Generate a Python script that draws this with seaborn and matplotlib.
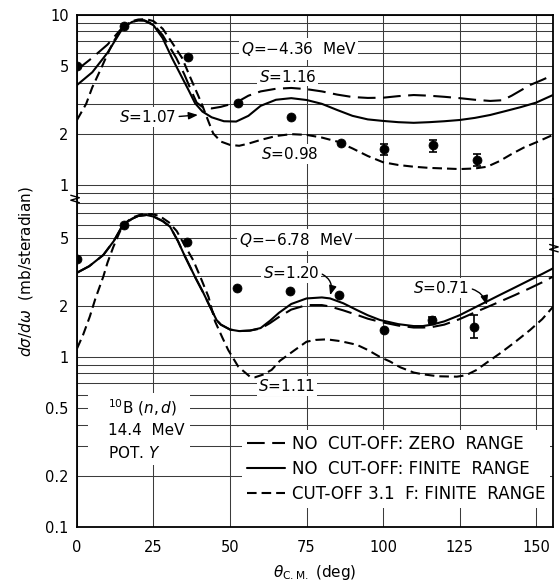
import numpy as np
import pandas as pd
import matplotlib
matplotlib.use("Agg")
import matplotlib.pyplot as plt
import seaborn as sns
from matplotlib.ticker import FixedLocator, FixedFormatter, LogLocator, NullFormatter
from matplotlib.patches import Rectangle

# ---------------- data ----------------
# Upper panel: Q = -4.36 MeV
top_zero_x = [0, 5, 10, 15, 18, 20, 22, 25, 28, 30, 32.4, 35, 37, 39.1, 41.2, 44, 47, 52, 56, 60, 65, 70, 75, 80, 85, 90, 95, 100, 105, 110, 115, 120, 125, 130, 135, 139, 142, 145, 148, 152, 155.5]
top_zero_y = [4.75, 5.6, 6.7, 8.5, 9.1, 9.3, 9.3, 8.8, 7.6, 6.6, 5.6, 4.5, 3.7, 3.05, 2.86, 2.82, 2.88, 3.05, 3.35, 3.55, 3.68, 3.72, 3.66, 3.55, 3.40, 3.29, 3.25, 3.26, 3.33, 3.38, 3.35, 3.30, 3.24, 3.17, 3.12, 3.15, 3.35, 3.6, 3.87, 4.15, 4.43]

top_fin_x = [0, 5, 10, 15, 18, 20, 22, 25, 28, 31, 34, 36.5, 38.6, 41, 44, 48, 52, 56, 60, 65, 70, 75, 80, 85, 90, 95, 100, 105, 110, 115, 120, 125, 130, 135, 140, 145, 150, 155.5]
top_fin_y = [3.87, 4.6, 6.0, 8.4, 9.1, 9.3, 9.25, 8.7, 7.3, 5.6, 4.4, 3.6, 3.02, 2.7, 2.5, 2.37, 2.36, 2.55, 2.92, 3.17, 3.24, 3.16, 3.0, 2.76, 2.55, 2.43, 2.38, 2.34, 2.32, 2.34, 2.37, 2.41, 2.48, 2.58, 2.72, 2.87, 3.05, 3.38]

top_cut_x = [0, 3, 5, 8, 10, 12, 15, 18, 20, 22.5, 25, 28, 31, 34.3, 37, 40.7, 43, 44.5, 47, 50, 53, 56, 60, 65, 70, 75, 80, 85, 90, 95, 100, 105, 110, 115, 120, 125, 130, 134, 138, 142, 146, 150, 155.5]
top_cut_y = [2.41, 3.0, 3.75, 4.9, 5.9, 7.0, 8.5, 9.2, 9.4, 9.45, 9.2, 8.3, 6.9, 5.6, 4.3, 3.02, 2.35, 2.01, 1.8, 1.72, 1.70, 1.75, 1.84, 1.94, 1.99, 1.97, 1.90, 1.80, 1.64, 1.48, 1.36, 1.31, 1.28, 1.26, 1.25, 1.24, 1.25, 1.28, 1.38, 1.52, 1.66, 1.78, 1.97]

top_pts_x = [0, 15.4, 36.4, 52.7, 69.8, 86.3, 100.4, 116.2, 130.8]
top_pts_y = [5.0, 8.65, 5.66, 3.04, 2.52, 1.77, 1.62, 1.72, 1.40]
top_err_lo = [0, 0, 0, 0, 0, 0, 0.12, 0.15, 0.11]
top_err_hi = [0, 0, 0, 0, 0, 0, 0.12, 0.12, 0.12]

# Lower panel: Q = -6.78 MeV
bot_fin_x = [0, 4, 8.6, 12, 15, 18, 20, 22.7, 25, 28, 30.4, 33, 35, 38.6, 41.3, 43.5, 45.6, 47, 50, 53, 56.5, 60, 63, 66, 70, 75, 80, 82.7, 87, 91.4, 95, 99, 105, 110, 113, 116, 120, 125, 130.6, 135, 138, 143, 148, 152, 155.5]
bot_fin_y = [3.13, 3.42, 3.98, 4.8, 5.98, 6.5, 6.75, 6.84, 6.7, 6.3, 5.84, 4.8, 4.0, 2.95, 2.38, 1.97, 1.65, 1.55, 1.45, 1.42, 1.43, 1.48, 1.63, 1.82, 2.05, 2.21, 2.24, 2.21, 2.07, 1.89, 1.76, 1.65, 1.56, 1.52, 1.52, 1.55, 1.62, 1.76, 1.98, 2.17, 2.31, 2.56, 2.84, 3.08, 3.32]

bot_zero_x = [0, 4, 8.6, 12, 15, 18, 20, 22.7, 25, 28, 30.4, 33, 35, 38.6, 41.3, 43.5, 45.6, 47, 50, 53, 56.5, 60, 63, 66, 70, 75, 80, 82.7, 87, 91.4, 95, 99, 105, 110, 113, 116, 120, 125, 130.6, 135, 138, 143, 148, 152, 155.5]
bot_zero_y = [3.13, 3.42, 3.98, 4.8, 5.98, 6.5, 6.75, 6.84, 6.7, 6.3, 5.84, 4.8, 4.0, 2.95, 2.38, 1.97, 1.65, 1.55, 1.45, 1.42, 1.43, 1.47, 1.58, 1.72, 1.90, 2.02, 2.02, 1.98, 1.88, 1.77, 1.68, 1.61, 1.53, 1.49, 1.49, 1.50, 1.55, 1.67, 1.85, 2.0, 2.11, 2.31, 2.54, 2.75, 2.97]

bot_cut_x = [0, 2, 4.2, 6, 8.6, 10, 11.9, 13.5, 15, 18, 21, 24.4, 27, 30, 32.6, 35, 38, 40.5, 43, 45.1, 47.5, 49.4, 52.7, 56.5, 58.2, 61, 63.6, 66.3, 71.2, 75, 78, 81.6, 86, 91.4, 95, 99, 102.3, 105.6, 110, 113.2, 118, 124.1, 127, 130.6, 134, 138.2, 143, 148, 152, 155.6]
bot_cut_y = [1.12, 1.35, 1.73, 2.2, 2.97, 3.6, 4.45, 5.2, 5.98, 6.6, 6.9, 6.93, 6.75, 6.2, 5.5, 4.6, 3.7, 2.9, 2.25, 1.62, 1.3, 1.10, 0.877, 0.766, 0.76, 0.79, 0.84, 0.95, 1.10, 1.23, 1.26, 1.27, 1.24, 1.18, 1.10, 1.00, 0.94, 0.87, 0.81, 0.79, 0.77, 0.766, 0.78, 0.84, 0.93, 1.05, 1.22, 1.44, 1.67, 1.98]

bot_pts_x = [0, 15.4, 35.8, 52.4, 69.6, 85.7, 100.2, 116.0, 129.7]
bot_pts_y = [3.77, 5.95, 4.77, 2.54, 2.46, 2.32, 1.44, 1.65, 1.51]
bot_err_lo = [0, 0, 0, 0, 0, 0, 0, 0.07, 0.22]
bot_err_hi = [0, 0, 0, 0, 0, 0, 0, 0.07, 0.26]

top_ticks = [1, 2, 5, 10]
top_ticklabels = ["1", "2", "5", "10"]
bot_ticks = [0.1, 0.2, 0.5, 1, 2, 5]
bot_ticklabels = ["0.1", "0.2", "0.5", "1", "2", "5"]
x_ticks = [0, 25, 50, 75, 100, 125, 150]
x_ticklabels = ["0", "25", "50", "75", "100", "125", "150"]

legend_labels = ["NO  CUT-OFF: ZERO  RANGE", "NO  CUT-OFF: FINITE  RANGE", "CUT-OFF 3.1  F: FINITE  RANGE"]

# ---------------- style ----------------
sns.set_style("white")
plt.rcParams["font.family"] = ["DejaVu Sans"]
plt.rcParams["mathtext.fontset"] = "dejavusans"
for key in ("text.color", "axes.labelcolor", "xtick.color", "ytick.color"):
    plt.rcParams[key] = "black"

LW = 1.5
LONG = (0, (8.5, 3.6))
SHORT = (0, (4.6, 2.4))
GRID_KW = dict(color="#3c3c3c", lw=0.75)

fig = plt.figure(figsize=(5.59, 5.84), dpi=100)
ax_top = fig.add_axes([0.1377, 0.6593, 0.8515, 0.3151])
ax_bot = fig.add_axes([0.1377, 0.0976, 0.8515, 0.5617])


def draw_curve(ax, xs, ys, ls, label=None):
    df = pd.DataFrame({"x": xs, "y": ys})
    sns.lineplot(data=df, x="x", y="y", ax=ax, color="black", lw=LW,
                 linestyle=ls, zorder=4, label=label, legend=False, sort=False)


def draw_points(ax, xs, ys, lo, hi):
    df = pd.DataFrame({"x": xs, "y": ys})
    sns.scatterplot(data=df, x="x", y="y", ax=ax, color="black", s=42,
                    edgecolor="black", zorder=5, legend=False)
    xe = [x for x, a, b in zip(xs, lo, hi) if a > 0 or b > 0]
    ye = [y for y, a, b in zip(ys, lo, hi) if a > 0 or b > 0]
    le = [a for a, b in zip(lo, hi) if a > 0 or b > 0]
    he = [b for a, b in zip(lo, hi) if a > 0 or b > 0]
    ax.errorbar(xe, ye, yerr=[le, he], fmt="none", ecolor="black",
                elinewidth=1.2, capsize=3, capthick=1.2, zorder=5)


# upper panel curves
draw_curve(ax_top, top_zero_x, top_zero_y, LONG)
draw_curve(ax_top, top_fin_x, top_fin_y, "-")
draw_curve(ax_top, top_cut_x, top_cut_y, SHORT)
draw_points(ax_top, top_pts_x, top_pts_y, top_err_lo, top_err_hi)

# lower panel curves
draw_curve(ax_bot, bot_zero_x, bot_zero_y, LONG, label=legend_labels[0])
draw_curve(ax_bot, bot_fin_x, bot_fin_y, "-", label=legend_labels[1])
draw_curve(ax_bot, bot_cut_x, bot_cut_y, SHORT, label=legend_labels[2])
draw_points(ax_bot, bot_pts_x, bot_pts_y, bot_err_lo, bot_err_hi)

for ax in (ax_top, ax_bot):
    ax.set_yscale("log")
    ax.set_xlim(0, 155.5)
    ax.set_axisbelow(True)
    ax.xaxis.set_major_locator(FixedLocator(x_ticks))
    ax.yaxis.set_minor_locator(LogLocator(base=10, subs=np.arange(2, 10) * 1.0, numticks=30))
    ax.yaxis.set_minor_formatter(NullFormatter())
    ax.yaxis.grid(True, which="both", **GRID_KW)
    ax.xaxis.grid(True, which="major", **GRID_KW)
    ax.tick_params(which="both", length=0, labelsize=10.5, pad=6, colors="black")
    for s in ax.spines.values():
        s.set_linewidth(1.3)
        s.set_color("black")
    ax.set_xlabel("")
    ax.set_ylabel("")

ax_top.set_ylim(0.827, 10)
ax_top.yaxis.set_major_locator(FixedLocator(top_ticks))
ax_top.yaxis.set_major_formatter(FixedFormatter(top_ticklabels))
ax_top.tick_params(axis="x", labelbottom=False)
ax_top.spines["bottom"].set_visible(False)

ax_bot.set_ylim(0.1, 8.5)
ax_bot.yaxis.set_major_locator(FixedLocator(bot_ticks))
ax_bot.yaxis.set_major_formatter(FixedFormatter(bot_ticklabels))
ax_bot.xaxis.set_major_formatter(FixedFormatter(x_ticklabels))
ax_bot.tick_params(axis="x", pad=9)
ax_bot.spines["top"].set_visible(False)

# ---------------- annotations ----------------
BOX = dict(boxstyle="square,pad=0.12", fc="white", ec="none")
FS = 11
ax_top.text(72.4, 6.29, "$Q$=\u22124.36  MeV", ha="center", va="center", fontsize=FS, bbox=BOX, zorder=3)
ax_top.text(68.8, 4.34, "$S$=1.16", ha="center", va="center", fontsize=FS, bbox=BOX, zorder=3)
ax_top.text(69.6, 1.52, "$S$=0.98", ha="center", va="center", fontsize=FS, bbox=BOX, zorder=3)
ax_top.annotate("$S$=1.07", xy=(39.5, 2.58), xytext=(23, 2.52), ha="center", va="center",
                fontsize=FS, bbox=BOX, zorder=3,
                arrowprops=dict(arrowstyle="-|>,head_length=0.5,head_width=0.2", color="black",
                                lw=1.0, relpos=(1, 0.5), shrinkA=1, shrinkB=0))

ax_bot.text(71.6, 4.88, "$Q$=\u22126.78  MeV", ha="center", va="center", fontsize=FS, bbox=BOX, zorder=3)
ax_bot.annotate("$S$=1.20", xy=(82.7, 2.31), xytext=(69.9, 3.13), ha="center", va="center",
                fontsize=FS, bbox=BOX, zorder=3,
                arrowprops=dict(arrowstyle="-|>,head_length=0.5,head_width=0.2", color="black",
                                lw=1.0, relpos=(1, 0.5), shrinkA=1, shrinkB=0,
                                connectionstyle="arc3,rad=-0.45"))
ax_bot.annotate("$S$=0.71", xy=(133.9, 2.02), xytext=(119, 2.54), ha="center", va="center",
                fontsize=FS, bbox=BOX, zorder=3,
                arrowprops=dict(arrowstyle="-|>,head_length=0.5,head_width=0.2", color="black",
                                lw=1.0, relpos=(1, 0.5), shrinkA=1, shrinkB=0,
                                connectionstyle="arc3,rad=-0.3"))
ax_bot.text(68.6, 0.675, "$S$=1.11", ha="center", va="center", fontsize=FS, bbox=BOX, zorder=3)

# reaction info box
ax_bot.add_patch(Rectangle((0.023, 0.189), 0.214, 0.22, transform=ax_bot.transAxes,
                           fc="white", ec="none", zorder=2.5))
ax_bot.text(10.1, 0.503, "$^{10}$B ($n,d$)", ha="left", va="center", fontsize=FS, zorder=3)
ax_bot.text(10.1, 0.368, "14.4  MeV", ha="left", va="center", fontsize=FS, zorder=3)
ax_bot.text(10.1, 0.271, "POT. $Y$", ha="left", va="center", fontsize=FS, zorder=3)

leg = ax_bot.legend(loc="lower right", bbox_to_anchor=(0.994, 0.058), fontsize=12,
                    frameon=True, fancybox=False, facecolor="white", edgecolor="none",
                    framealpha=1, handlelength=2.3, handletextpad=0.4, labelspacing=0.42,
                    borderpad=0.3, borderaxespad=0)
leg.set_zorder(3)

# axis break marks
def zigzag(ax, x0, y0):
    dx, dy = 0.009, 0.0075
    xs = [x0 - dx, x0 + dx, x0 - dx, x0 + dx]
    ys = [y0 + 1.5 * dy, y0 + 0.5 * dy, y0 - 0.5 * dy, y0 - 1.5 * dy]
    ax.plot(xs, ys, transform=ax.transAxes, color="black", lw=1.0, clip_on=False, zorder=6)

zigzag(ax_bot, -0.004, 1.0)
zigzag(ax_bot, 1.002, 0.85)

# axis labels
ax_bot.set_xlabel(r"$\theta_{\rm C.M.}$ (deg)", fontsize=11, labelpad=6)
fig.text(0.046, 0.535, r"$d\sigma/d\omega$  (mb/steradian)", rotation=90,
         ha="center", va="center", fontsize=11)

fig.savefig("out.png", dpi=100)
